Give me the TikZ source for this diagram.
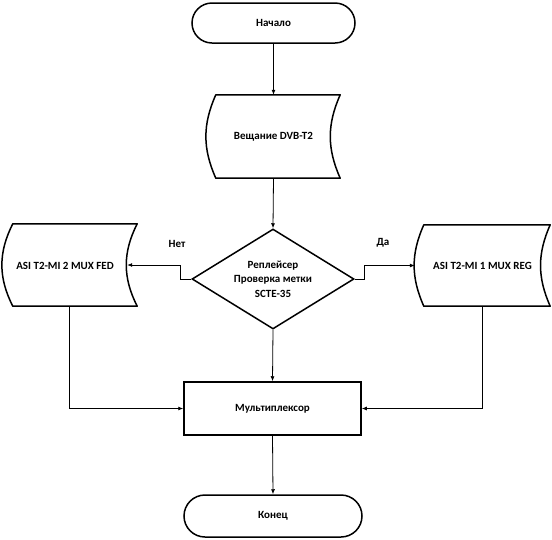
\documentclass[tikz,border=0pt]{standalone}
\usepackage{fontspec}
\setmainfont{Carlito}
\usetikzlibrary{shapes.geometric,arrows.meta}
\newcommand\sdshape[3]{%
  \draw[shapeline] ([xshift=#2pt]#1.north west) -- (#1.north east)
    to[bend right=#3] (#1.south east)
    -- ([xshift=#2pt]#1.south west)
    to[bend left=#3] ([xshift=#2pt]#1.north west) -- cycle;}
\begin{document}
\begin{tikzpicture}[x=1pt,y=-1pt,
  every node/.style={font=\fontsize{11}{14.5}\selectfont\bfseries},
  shapeline/.style={line width=1.5pt,line join=round},
  term/.style={draw,line width=1.5pt,rectangle,inner sep=0pt},
  boxn/.style={draw=none,rectangle,inner sep=0pt},
  arr/.style={line width=0.8pt,-{Latex[length=5pt,width=4pt]}}]
\useasboundingbox (0,0) rectangle (552,539);
\node[term,minimum width=163pt,minimum height=40pt,rounded corners=20pt] (start) at (273.5,23) {Начало};
\node[boxn,minimum width=133pt,minimum height=83pt] (bc) at (273.5,136.5) {Вещание DVB-T2};
\sdshape{bc}{9}{24}
\node[draw,line width=1.5pt,diamond,inner sep=0pt,aspect=1.62,minimum width=162pt,minimum height=100pt,align=center] (dia) at (273,279) {Реплейсер\\Проверка метки\\SCTE-35};
\node[boxn,minimum width=134pt,minimum height=82pt] (lb) at (70,265) {};
\node at (65,266) {ASI T2-MI 2 MUX FED};
\sdshape{lb}{10}{27}
\node[boxn,minimum width=135pt,minimum height=81pt] (rb) at (482.5,265.5) {ASI T2-MI 1 MUX REG};
\sdshape{rb}{9}{24}
\node[term,minimum width=177pt,minimum height=53pt] (mux) at (272.5,408.5) {Мультиплексор};
\node[term,minimum width=178pt,minimum height=42pt,rounded corners=21pt] (end) at (273,516) {Конец};
\node (no) at (177,244) {Нет};
\node (yes) at (383,243) {Да};
\draw[arr] (start.south) -- (bc.north);
\draw[arr] (bc.south) -- (dia.north);
\draw[arr] (dia.west) -- ++(-11,0) |- ([xshift=-10pt]lb.east);
\draw[arr] (dia.east) -- ++(10,0) |- (rb.west);
\draw[arr] ([xshift=-1pt]lb.south) |- (mux.west);
\draw[arr] (rb.south) |- (mux.east);
\draw[arr] (dia.south) -- (mux.north);
\draw[arr] (mux.south) -- (end.north);
\end{tikzpicture}
\end{document}
